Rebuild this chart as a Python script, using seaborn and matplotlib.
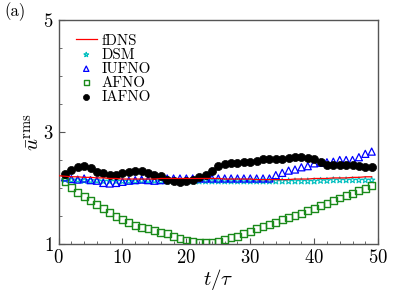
import matplotlib
matplotlib.use("Agg")
import matplotlib.pyplot as plt
import seaborn as sns
import numpy as np
import pandas as pd
from matplotlib.ticker import MultipleLocator, FixedLocator

# time axis
t_dns = list(range(0, 50))
t_mod = list(range(1, 50))

fdns = [2.22, 2.21, 2.20, 2.20, 2.19, 2.19, 2.18, 2.18, 2.17, 2.17,
        2.16, 2.16, 2.16, 2.16, 2.16, 2.16, 2.17, 2.17, 2.17, 2.17,
        2.17, 2.17, 2.17, 2.17, 2.17, 2.17, 2.16, 2.16, 2.16, 2.16,
        2.16, 2.15, 2.15, 2.15, 2.15, 2.15, 2.15, 2.16, 2.16, 2.16,
        2.17, 2.17, 2.17, 2.18, 2.18, 2.18, 2.19, 2.19, 2.20, 2.20]

dsm = [2.15, 2.14, 2.14, 2.13, 2.13, 2.13, 2.12, 2.12, 2.12, 2.12,
       2.12, 2.12, 2.13, 2.13, 2.13, 2.12, 2.12, 2.12, 2.12, 2.12,
       2.12, 2.12, 2.12, 2.12, 2.12, 2.12, 2.12, 2.12, 2.12, 2.12,
       2.12, 2.12, 2.12, 2.12, 2.12, 2.12, 2.12, 2.12, 2.12, 2.12,
       2.13, 2.13, 2.14, 2.14, 2.14, 2.14, 2.14, 2.14, 2.14]

iufno = [2.19, 2.16, 2.15, 2.17, 2.14, 2.13, 2.09, 2.08, 2.09, 2.11,
         2.13, 2.14, 2.15, 2.14, 2.13, 2.14, 2.17, 2.17, 2.17, 2.17,
         2.17, 2.17, 2.17, 2.17, 2.17, 2.17, 2.17, 2.17, 2.17, 2.17,
         2.17, 2.17, 2.17, 2.23, 2.27, 2.31, 2.33, 2.37, 2.39, 2.44,
         2.45, 2.46, 2.47, 2.50, 2.50, 2.50, 2.55, 2.61, 2.65]

afno = [2.11, 2.01, 1.92, 1.85, 1.78, 1.71, 1.63, 1.56, 1.49, 1.43,
        1.38, 1.33, 1.30, 1.27, 1.24, 1.21, 1.18, 1.14, 1.10, 1.07,
        1.05, 1.03, 1.02, 1.03, 1.05, 1.08, 1.11, 1.14, 1.18, 1.22,
        1.27, 1.31, 1.35, 1.39, 1.43, 1.47, 1.51, 1.55, 1.60, 1.64,
        1.68, 1.73, 1.77, 1.82, 1.86, 1.90, 1.95, 1.99, 2.04]

iafno = [2.25, 2.32, 2.38, 2.39, 2.35, 2.29, 2.26, 2.24, 2.23, 2.26,
         2.29, 2.31, 2.30, 2.27, 2.24, 2.21, 2.15, 2.13, 2.11, 2.13,
         2.15, 2.19, 2.24, 2.31, 2.39, 2.42, 2.44, 2.44, 2.46, 2.47,
         2.49, 2.51, 2.52, 2.51, 2.52, 2.54, 2.55, 2.55, 2.54, 2.51,
         2.46, 2.41, 2.41, 2.41, 2.41, 2.41, 2.40, 2.38, 2.37]

y_major = [1, 3, 5]

plt.rcParams["font.family"] = "serif"
plt.rcParams["font.serif"] = ["cmr10"]
plt.rcParams["mathtext.fontset"] = "cm"
plt.rcParams["axes.unicode_minus"] = False
plt.rcParams["axes.formatter.use_mathtext"] = True

fig = plt.figure(figsize=(3.93, 2.95), dpi=100)
ax = fig.add_axes([0.149, 0.173, 0.813, 0.759])

df_mod = pd.DataFrame({"t": t_mod, "DSM": dsm, "IUFNO": iufno,
                       "AFNO": afno, "IAFNO": iafno})
df_dns = pd.DataFrame({"t": t_dns, "fDNS": fdns})

sns.lineplot(df_dns, x="t", y="fDNS", color="red", linewidth=0.9,
             ax=ax, label="fDNS", zorder=6)
sns.scatterplot(df_mod, x="t", y="DSM", marker="*", s=22, facecolor="none",
                edgecolor="#00bfbf", linewidth=0.8, ax=ax, label="DSM", zorder=3)
sns.scatterplot(df_mod, x="t", y="IUFNO", marker="^", s=26, facecolor="none",
                edgecolor="blue", linewidth=0.9, ax=ax, label="IUFNO", zorder=3)
sns.scatterplot(df_mod, x="t", y="AFNO", marker="s", s=24, facecolor="none",
                edgecolor="#1a8a1a", linewidth=1.0, ax=ax, label="AFNO", zorder=4)
sns.scatterplot(df_mod, x="t", y="IAFNO", marker="o", s=34, color="black",
                edgecolor="black", linewidth=0.5, ax=ax, label="IAFNO", zorder=5)

ax.set_xlim(0, 50)
ax.set_ylim(1, 5)
ax.xaxis.set_major_locator(MultipleLocator(10))
ax.xaxis.set_minor_locator(MultipleLocator(2))
ax.yaxis.set_major_locator(FixedLocator(y_major))
ax.yaxis.set_minor_locator(MultipleLocator(0.5))
ax.tick_params(which="both", direction="in", top=False, right=False,
               labelsize=13.5, color="#555555")
ax.tick_params(which="major", length=4)
ax.tick_params(which="minor", length=2.5)
for sp in ax.spines.values():
    sp.set_color("#555555")
    sp.set_linewidth(1.0)

ax.set_xlabel(r"$t/\tau$", fontsize=15, labelpad=0)
ax.set_ylabel(r"$\bar{u}^{\mathrm{rms}}$", fontsize=15, labelpad=0)

ax.legend(loc="upper left", bbox_to_anchor=(0.035, 0.965), frameon=False,
          fontsize=10.8, handlelength=1.4, handletextpad=0.35,
          labelspacing=0.02, borderaxespad=0.0, markerscale=0.75)

fig.text(0.012, 0.945, "(a)", fontsize=12)

fig.savefig("out.png", dpi=100)
